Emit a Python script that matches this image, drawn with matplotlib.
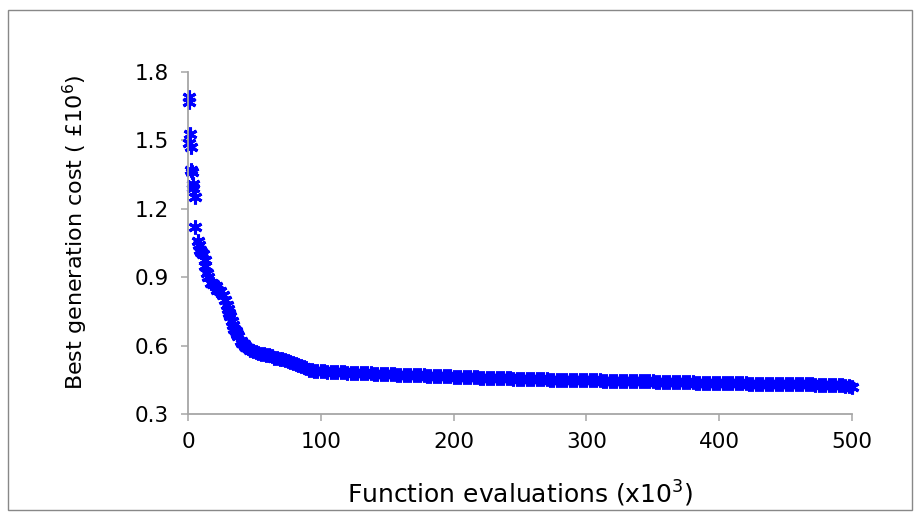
import matplotlib
matplotlib.use("Agg")
import matplotlib.pyplot as plt
from matplotlib.patches import Rectangle

plt.rcParams['font.family'] = ['DejaVu Sans']
plt.rcParams['mathtext.fontset'] = 'dejavusans'

# Early (sparse) part of the run
x_early = [1, 1, 1.5, 1, 2, 2.5, 3, 3.5, 4, 5, 5.5, 7.5, 8, 9, 10, 11, 12.5, 13, 14, 15,
           17, 19, 21, 22, 24, 26, 28, 29, 30, 31, 32, 33, 34, 35, 36, 37, 38,
           40, 41, 42, 43, 44, 45, 47, 49, 51, 53, 55, 57, 59, 61, 63, 65, 67, 69, 71,
           73, 75, 77, 79, 81, 83, 85, 87, 89, 91, 93, 95, 97]
y_early = [1.69, 1.67, 1.53, 1.49, 1.47, 1.37, 1.36, 1.31, 1.29, 1.25, 1.12, 1.06, 1.04,
           1.02, 1.01, 1.00, 0.975, 0.95, 0.92, 0.90, 0.875, 0.87, 0.86, 0.845, 0.84, 0.82,
           0.80, 0.78, 0.76, 0.745, 0.73, 0.71, 0.69, 0.675, 0.665, 0.65, 0.64,
           0.62, 0.61, 0.605, 0.60, 0.595, 0.59, 0.58, 0.575, 0.57, 0.567, 0.565, 0.562,
           0.56, 0.557, 0.553, 0.547, 0.545, 0.542, 0.54, 0.537, 0.532, 0.527, 0.523,
           0.52, 0.515, 0.51, 0.505, 0.50, 0.495, 0.492, 0.49, 0.489]

# Later (dense) part of the run
x_late = [100, 102.5, 105, 107.5, 110, 112.5, 115, 117.5, 120, 122.5, 125, 127.5, 130,
          132.5, 135, 137.5, 140, 142.5, 145, 147.5, 150, 152.5, 155, 157.5, 160, 162.5,
          165, 167.5, 170, 172.5, 175, 177.5, 180, 182.5, 185, 187.5, 190, 192.5, 195,
          197.5, 200, 202.5, 205, 207.5, 210, 212.5, 215, 217.5, 220, 222.5, 225, 227.5,
          230, 232.5, 235, 237.5, 240, 242.5, 245, 247.5, 250, 252.5, 255, 257.5, 260,
          262.5, 265, 267.5, 270, 272.5, 275, 277.5, 280, 282.5, 285, 287.5, 290, 292.5,
          295, 297.5, 300, 302.5, 305, 307.5, 310, 312.5, 315, 317.5, 320, 322.5, 325,
          327.5, 330, 332.5, 335, 337.5, 340, 342.5, 345, 347.5, 350, 352.5, 355, 357.5,
          360, 362.5, 365, 367.5, 370, 372.5, 375, 377.5, 380, 382.5, 385, 387.5, 390,
          392.5, 395, 397.5, 400, 402.5, 405, 407.5, 410, 412.5, 415, 417.5, 420, 422.5,
          425, 427.5, 430, 432.5, 435, 437.5, 440, 442.5, 445, 447.5, 450, 452.5, 455,
          457.5, 460, 462.5, 465, 467.5, 470, 472.5, 475, 477.5, 480, 482.5, 485, 487.5,
          490, 492.5, 495, 497.5, 500]
y_late = [0.488, 0.487, 0.486, 0.486, 0.485, 0.485, 0.484, 0.483, 0.482, 0.482, 0.481,
          0.481, 0.480, 0.480, 0.479, 0.478, 0.477, 0.477, 0.476, 0.476, 0.475, 0.475,
          0.474, 0.473, 0.472, 0.472, 0.471, 0.471, 0.470, 0.470, 0.469, 0.469, 0.468,
          0.468, 0.467, 0.467, 0.466, 0.466, 0.465, 0.465, 0.464, 0.464, 0.463, 0.463,
          0.462, 0.462, 0.461, 0.461, 0.460, 0.460, 0.459, 0.459, 0.458, 0.458, 0.457,
          0.457, 0.456, 0.456, 0.455, 0.455, 0.455, 0.454, 0.454, 0.453, 0.453, 0.453,
          0.452, 0.452, 0.452, 0.451, 0.451, 0.450, 0.450, 0.450, 0.449, 0.449, 0.449,
          0.448, 0.448, 0.448, 0.448, 0.447, 0.447, 0.447, 0.447, 0.446, 0.446, 0.446,
          0.446, 0.445, 0.445, 0.445, 0.445, 0.444, 0.444, 0.444, 0.444, 0.443, 0.443,
          0.443, 0.443, 0.442, 0.442, 0.442, 0.442, 0.441, 0.441, 0.441, 0.441, 0.440,
          0.440, 0.440, 0.440, 0.438, 0.437, 0.437, 0.437, 0.436, 0.436, 0.436, 0.436,
          0.435, 0.435, 0.435, 0.435, 0.434, 0.434, 0.434, 0.434, 0.433, 0.433, 0.433,
          0.433, 0.432, 0.432, 0.432, 0.432, 0.431, 0.431, 0.431, 0.431, 0.431, 0.431,
          0.430, 0.430, 0.430, 0.430, 0.430, 0.430, 0.429, 0.429, 0.429, 0.429, 0.428,
          0.428, 0.428, 0.428, 0.427, 0.421, 0.421, 0.420]

x_ticks = [0, 100, 200, 300, 400, 500]
y_ticks = [0.3, 0.6, 0.9, 1.2, 1.5, 1.8]
y_ticklabels = ['0.3', '0.6', '0.9', '1.2', '1.5', '1.8']

fig = plt.figure(figsize=(9.17, 5.17), dpi=100)
fig.patches.append(Rectangle((8/917, 1-510/517), 904/917, 500/517, transform=fig.transFigure,
                             fill=False, edgecolor='#888888', linewidth=1.0))
ax = fig.add_axes([188/917, 1-414/517, 664/917, 342/517])

ax.plot(x_early + x_late, y_early + y_late, linestyle='none', marker=(6, 2, 0),
        markersize=10, markeredgewidth=2.2, color='#0000FF', clip_on=False)

ax.set_xlim(0, 500)
ax.set_ylim(0.3, 1.8)
ax.set_xticks(x_ticks)
ax.set_yticks(y_ticks)
ax.set_yticklabels(y_ticklabels)
for s in ['top', 'right']:
    ax.spines[s].set_visible(False)
for s in ['left', 'bottom']:
    ax.spines[s].set_color('#A6A6A6')
    ax.spines[s].set_linewidth(1.3)
ax.tick_params(axis='both', direction='out', length=5, width=1.1, color='#A6A6A6',
               labelsize=15.5, labelcolor='#000000')
ax.tick_params(axis='y', pad=9)
ax.tick_params(axis='x', pad=8)

ax.set_xlabel(r'Function evaluations (x10$^{3}$)', fontsize=18)
ax.set_ylabel(r'Best generation cost ( £10$^{6}$)', fontsize=16)
ax.xaxis.label.set_va('center')
ax.yaxis.label.set_va('center')
ax.xaxis.set_label_coords(0.5, (414-494)/342)
ax.yaxis.set_label_coords((75-188)/664, (414-232)/342)

fig.savefig('out.png', dpi=100)
